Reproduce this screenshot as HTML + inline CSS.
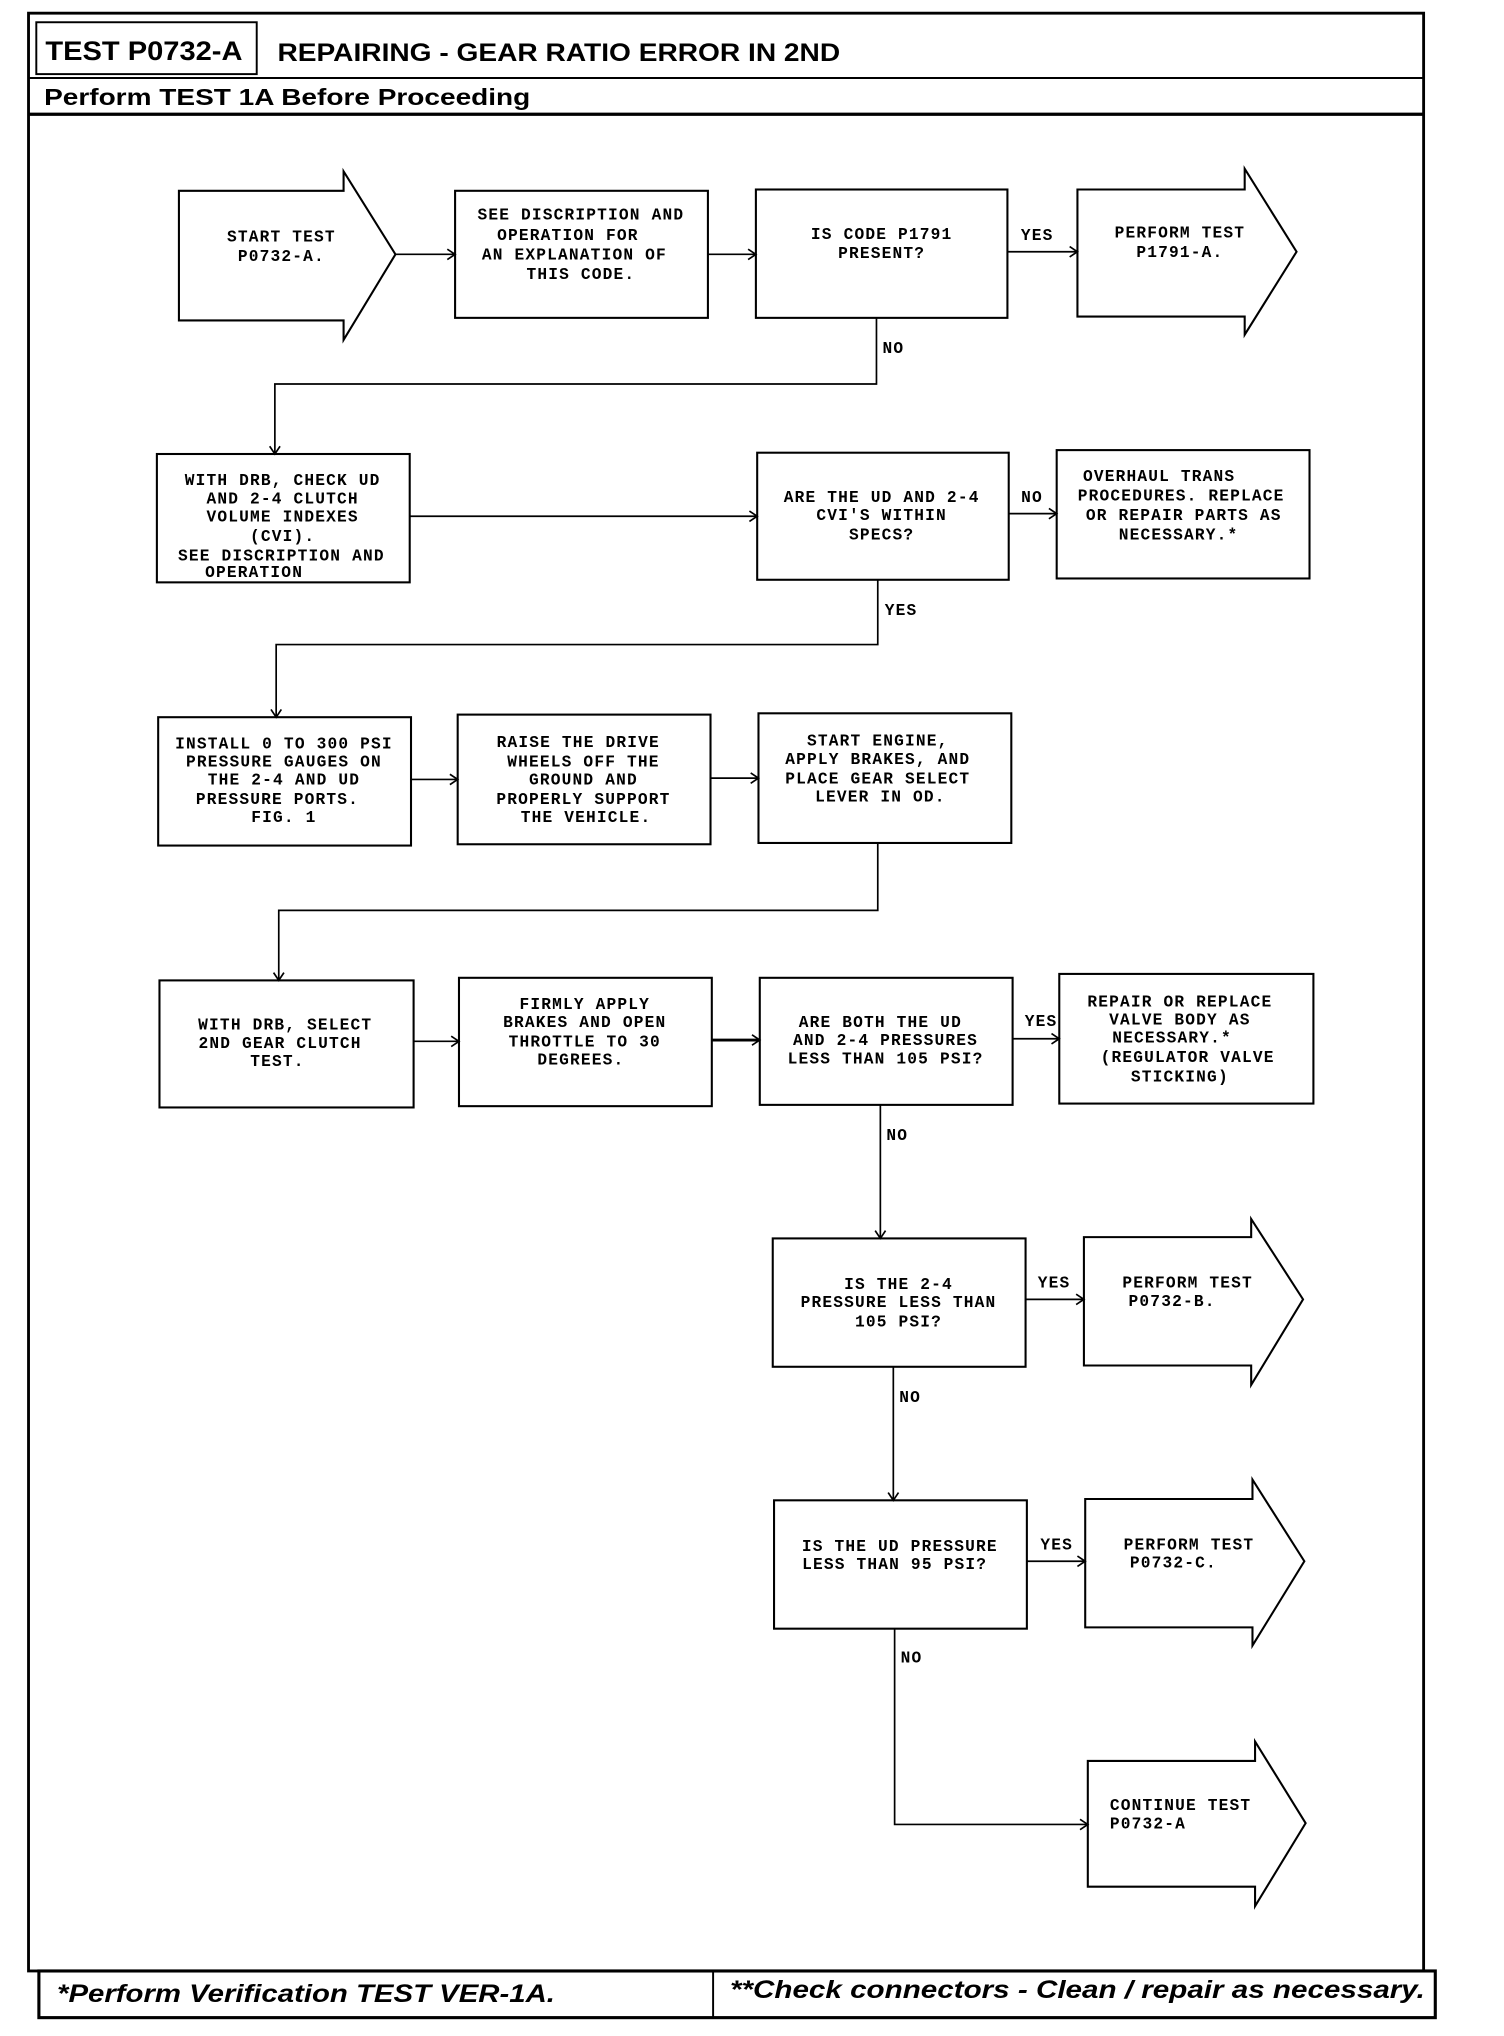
<!DOCTYPE html>
<html><head><meta charset="utf-8"><style>
html,body{margin:0;padding:0;background:#fff}
svg{display:block}
.t{font-family:"Liberation Mono",monospace;font-weight:bold;font-size:12.5px;letter-spacing:0.9px;fill:#000;text-anchor:middle}
.l{text-anchor:start}
.b{fill:#fff;stroke:#000;stroke-width:1.6}
.c{fill:none;stroke:#000;stroke-width:1.3}
</style></head><body>
<svg width="1504" height="2036" viewBox="0 0 1160 1570" xmlns="http://www.w3.org/2000/svg">
<defs><marker id="a" markerWidth="10" markerHeight="10" refX="8" refY="5" orient="auto" markerUnits="userSpaceOnUse"><path d="M2,1 L8,5 L2,9" fill="none" stroke="#000" stroke-width="1.3"/></marker></defs>
<!-- frame -->
<rect x="22" y="10" width="1076" height="1510" fill="none" stroke="#000" stroke-width="2.2"/>
<rect x="28" y="17" width="170" height="40" fill="none" stroke="#000" stroke-width="1.5"/>
<line x1="22" y1="60" x2="1098" y2="60" stroke="#000" stroke-width="1.5"/>
<line x1="22" y1="88" x2="1098" y2="88" stroke="#000" stroke-width="2.5"/>
<text x="35" y="46" font-family="Liberation Sans,sans-serif" font-weight="bold" font-size="21" textLength="152" lengthAdjust="spacingAndGlyphs">TEST P0732-A</text>
<text x="214" y="47" font-family="Liberation Sans,sans-serif" font-weight="bold" font-size="19" textLength="434" lengthAdjust="spacingAndGlyphs">REPAIRING - GEAR RATIO ERROR IN 2ND</text>
<text x="34" y="81" font-family="Liberation Sans,sans-serif" font-weight="bold" font-size="18" textLength="375" lengthAdjust="spacingAndGlyphs">Perform TEST 1A Before Proceeding</text>
<!-- footer -->
<rect x="30" y="1520" width="1077" height="36" fill="none" stroke="#000" stroke-width="2.4"/>
<line x1="550" y1="1520" x2="550" y2="1556" stroke="#000" stroke-width="1.5"/>
<text x="44" y="1544" font-family="Liberation Sans,sans-serif" font-weight="bold" font-style="italic" font-size="19" textLength="384" lengthAdjust="spacingAndGlyphs">*Perform Verification TEST VER-1A.</text>
<text x="563" y="1541" font-family="Liberation Sans,sans-serif" font-weight="bold" font-style="italic" font-size="19" textLength="536" lengthAdjust="spacingAndGlyphs">**Check connectors - Clean / repair as necessary.</text>

<!-- shapes -->
<path class="b" d="M138,147 H265 V132 L305,196 L265,262 V247 H138 Z"/>
<rect class="b" x="351" y="147" width="195" height="98"/>
<rect class="b" x="583" y="146" width="194" height="99"/>
<path class="b" d="M831,146 H960 V130 L1000,194 L960,258 V244 H831 Z"/>
<rect class="b" x="121" y="350" width="195" height="99"/>
<rect class="b" x="584" y="349" width="194" height="98"/>
<rect class="b" x="815" y="347" width="195" height="99"/>
<rect class="b" x="122" y="553" width="195" height="99"/>
<rect class="b" x="353" y="551" width="195" height="100"/>
<rect class="b" x="585" y="550" width="195" height="100"/>
<rect class="b" x="123" y="756" width="196" height="98"/>
<rect class="b" x="354" y="754" width="195" height="99"/>
<rect class="b" x="586" y="754" width="195" height="98"/>
<rect class="b" x="817" y="751" width="196" height="100"/>
<rect class="b" x="596" y="955" width="195" height="99"/>
<path class="b" d="M836,954 H965 V940 L1005,1002 L965,1068 V1053 H836 Z"/>
<rect class="b" x="597" y="1157" width="195" height="99"/>
<path class="b" d="M837,1156 H966 V1141 L1006,1204 L966,1269 V1255 H837 Z"/>
<path class="b" d="M839,1358 H968 V1343 L1007,1406 L968,1470 V1455 H839 Z"/>

<!-- connectors -->
<g class="c" marker-end="url(#a)">
<line x1="305" y1="196" x2="351" y2="196"/>
<line x1="546" y1="196" x2="583" y2="196"/>
<line x1="777" y1="194" x2="831" y2="194"/>
<polyline points="676,245 676,296 212,296 212,350"/>
<line x1="316" y1="398" x2="584" y2="398"/>
<line x1="778" y1="396" x2="815" y2="396"/>
<polyline points="677,447 677,497 213,497 213,553"/>
<line x1="317" y1="601" x2="353" y2="601"/>
<line x1="548" y1="600" x2="585" y2="600"/>
<polyline points="677,650 677,702 215,702 215,756"/>
<line x1="319" y1="803" x2="354" y2="803"/>
<line x1="549" y1="802" x2="586" y2="802"/>
<line x1="781" y1="801" x2="817" y2="801"/>
<line x1="679" y1="852" x2="679" y2="955"/>
<line x1="791" y1="1002" x2="836" y2="1002"/>
<line x1="689" y1="1054" x2="689" y2="1157"/>
<line x1="792" y1="1204" x2="837" y2="1204"/>
<polyline points="690,1256 690,1407 839,1407"/>
</g>
<line x1="549" y1="802" x2="586" y2="802" stroke="#000" stroke-width="2.2"/>

<!-- connector labels -->
<text class="t" x="800" y="185">YES</text>
<text class="t" x="689" y="272">NO</text>
<text class="t" x="796" y="387">NO</text>
<text class="t" x="695" y="474">YES</text>
<text class="t" x="803" y="791">YES</text>
<text class="t" x="692" y="879">NO</text>
<text class="t" x="813" y="993">YES</text>
<text class="t" x="702" y="1081">NO</text>
<text class="t" x="815" y="1195">YES</text>
<text class="t" x="703" y="1282">NO</text>

<!-- node text -->
<text class="t" x="217" y="186">START TEST</text>
<text class="t" x="217" y="201">P0732-A.</text>

<text class="t" x="448" y="169">SEE DISCRIPTION AND</text>
<text class="t" x="438" y="185">OPERATION FOR</text>
<text class="t" x="443" y="200">AN EXPLANATION OF</text>
<text class="t" x="448" y="215">THIS CODE.</text>

<text class="t" x="680" y="184">IS CODE P1791</text>
<text class="t" x="680" y="199">PRESENT?</text>

<text class="t" x="910" y="183">PERFORM TEST</text>
<text class="t" x="910" y="198">P1791-A.</text>

<text class="t" x="218" y="374">WITH DRB, CHECK UD</text>
<text class="t" x="218" y="388">AND 2-4 CLUTCH</text>
<text class="t" x="218" y="402">VOLUME INDEXES</text>
<text class="t" x="218" y="417">(CVI).</text>
<text class="t" x="217" y="432">SEE DISCRIPTION AND</text>
<text class="t" x="196" y="445">OPERATION</text>

<text class="t" x="680" y="387">ARE THE UD AND 2-4</text>
<text class="t" x="680" y="401">CVI'S WITHIN</text>
<text class="t" x="680" y="416">SPECS?</text>

<text class="t" x="894" y="371">OVERHAUL TRANS</text>
<text class="t" x="911" y="386">PROCEDURES. REPLACE</text>
<text class="t" x="913" y="401">OR REPAIR PARTS AS</text>
<text class="t" x="909" y="416">NECESSARY.*</text>

<text class="t" x="219" y="577">INSTALL 0 TO 300 PSI</text>
<text class="t" x="219" y="591">PRESSURE GAUGES ON</text>
<text class="t" x="219" y="605">THE 2-4 AND UD</text>
<text class="t" x="214" y="620">PRESSURE PORTS.</text>
<text class="t" x="219" y="634">FIG. 1</text>

<text class="t" x="446" y="576">RAISE THE DRIVE</text>
<text class="t" x="450" y="591">WHEELS OFF THE</text>
<text class="t" x="450" y="605">GROUND AND</text>
<text class="t" x="450" y="620">PROPERLY SUPPORT</text>
<text class="t" x="452" y="634">THE VEHICLE.</text>

<text class="t" x="677" y="575">START ENGINE,</text>
<text class="t" x="677" y="589">APPLY BRAKES, AND</text>
<text class="t" x="677" y="604">PLACE GEAR SELECT</text>
<text class="t" x="679" y="618">LEVER IN OD.</text>

<text class="t" x="220" y="794">WITH DRB, SELECT</text>
<text class="t" x="216" y="808">2ND GEAR CLUTCH</text>
<text class="t" x="214" y="822">TEST.</text>

<text class="t" x="451" y="778">FIRMLY APPLY</text>
<text class="t" x="451" y="792">BRAKES AND OPEN</text>
<text class="t" x="451" y="807">THROTTLE TO 30</text>
<text class="t" x="448" y="821">DEGREES.</text>

<text class="t" x="679" y="792">ARE BOTH THE UD</text>
<text class="t" x="683" y="806">AND 2-4 PRESSURES</text>
<text class="t" x="683" y="820">LESS THAN 105 PSI?</text>

<text class="t" x="910" y="776">REPAIR OR REPLACE</text>
<text class="t" x="910" y="790">VALVE BODY AS</text>
<text class="t" x="904" y="804">NECESSARY.*</text>
<text class="t" x="916" y="819">(REGULATOR VALVE</text>
<text class="t" x="910" y="834">STICKING)</text>

<text class="t" x="693" y="994">IS THE 2-4</text>
<text class="t" x="693" y="1008">PRESSURE LESS THAN</text>
<text class="t" x="693" y="1023">105 PSI?</text>

<text class="t" x="916" y="993">PERFORM TEST</text>
<text class="t" x="904" y="1007">P0732-B.</text>

<text class="t" x="694" y="1196">IS THE UD PRESSURE</text>
<text class="t" x="690" y="1210">LESS THAN 95 PSI?</text>

<text class="t" x="917" y="1195">PERFORM TEST</text>
<text class="t" x="905" y="1209">P0732-C.</text>

<text class="t l" x="856" y="1396">CONTINUE TEST</text>
<text class="t l" x="856" y="1410">P0732-A</text>
</svg>
</body></html>
